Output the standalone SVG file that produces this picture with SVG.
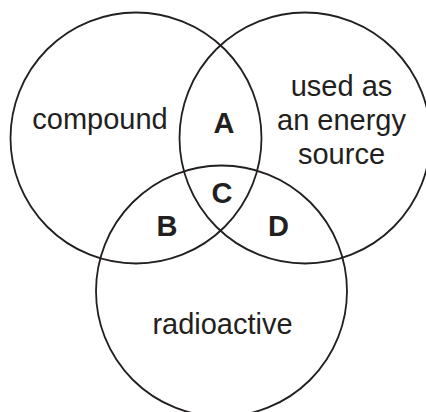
<svg xmlns="http://www.w3.org/2000/svg" width="426" height="412" viewBox="0 0 426 412">
<style>
.set{fill:none;stroke:#231f20;stroke-width:1.8}
.lbl{font-family:"Liberation Sans",Arial,sans-serif;font-size:29px;fill:#231f20;text-anchor:middle}
.reg{font-family:"Liberation Sans",Arial,sans-serif;font-size:29px;font-weight:bold;fill:#231f20;text-anchor:middle}
</style>
<rect width="426" height="412" fill="#ffffff"/>
<g id="compound">
<circle class="set" cx="136" cy="138" r="125.5"/>
<text class="lbl" x="100" y="129">compound</text>
</g>
<g id="energy">
<circle class="set" cx="305" cy="138" r="125.5"/>
<text class="lbl" x="341.5" y="96">used as</text>
<text class="lbl" x="341.5" y="130">an energy</text>
<text class="lbl" x="341.5" y="164">source</text>
</g>
<g id="radioactive">
<circle class="set" cx="221.5" cy="291" r="125.5"/>
<text class="lbl" x="222.5" y="333.5">radioactive</text>
</g>
<g id="regions">
<text class="reg" x="224" y="133">A</text>
<text class="reg" x="167" y="236">B</text>
<text class="reg" x="222" y="203">C</text>
<text class="reg" x="278.5" y="236">D</text>
</g>
</svg>
